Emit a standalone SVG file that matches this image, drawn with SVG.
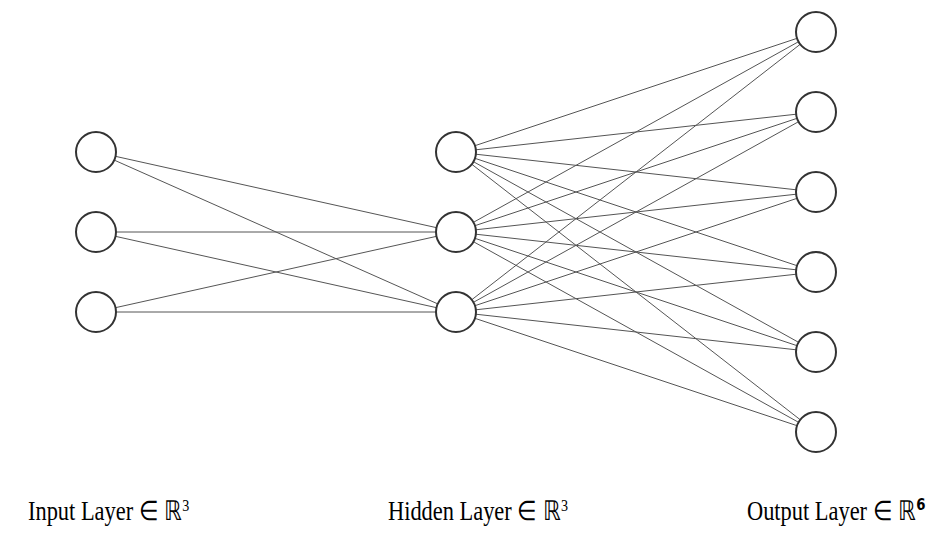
<svg xmlns="http://www.w3.org/2000/svg" width="944" height="538" viewBox="0 0 944 538">
  <style>
    .edge { stroke: #555; stroke-width: 1; fill: none; }
    .neuron { fill: #fff; stroke: #333; stroke-width: 2; }
    .label { font-family: "Liberation Serif", "Times New Roman", serif; font-size: 27px; fill: #000; }
    .sup { font-size: 17px; }
    .supb { font-family: "DejaVu Sans", sans-serif; font-weight: bold; font-size: 16px; }
  </style>
  <rect width="944" height="538" fill="#fff"/>

  <!-- connections (drawn first, circles cover the ends) -->
  <g id="connectors">
    <!-- input -> hidden -->
    <line class="edge" x1="96" y1="152" x2="456" y2="232"/>
    <line class="edge" x1="96" y1="152" x2="456" y2="312"/>
    <line class="edge" x1="96" y1="232" x2="456" y2="232"/>
    <line class="edge" x1="96" y1="232" x2="456" y2="312"/>
    <line class="edge" x1="96" y1="312" x2="456" y2="232"/>
    <line class="edge" x1="96" y1="312" x2="456" y2="312"/>
    <!-- hidden -> output -->
    <line class="edge" x1="456" y1="152" x2="816" y2="32"/>
    <line class="edge" x1="456" y1="152" x2="816" y2="112"/>
    <line class="edge" x1="456" y1="152" x2="816" y2="192"/>
    <line class="edge" x1="456" y1="152" x2="816" y2="272"/>
    <line class="edge" x1="456" y1="152" x2="816" y2="352"/>
    <line class="edge" x1="456" y1="152" x2="816" y2="432"/>
    <line class="edge" x1="456" y1="232" x2="816" y2="32"/>
    <line class="edge" x1="456" y1="232" x2="816" y2="112"/>
    <line class="edge" x1="456" y1="232" x2="816" y2="192"/>
    <line class="edge" x1="456" y1="232" x2="816" y2="272"/>
    <line class="edge" x1="456" y1="232" x2="816" y2="352"/>
    <line class="edge" x1="456" y1="232" x2="816" y2="432"/>
    <line class="edge" x1="456" y1="312" x2="816" y2="32"/>
    <line class="edge" x1="456" y1="312" x2="816" y2="112"/>
    <line class="edge" x1="456" y1="312" x2="816" y2="192"/>
    <line class="edge" x1="456" y1="312" x2="816" y2="272"/>
    <line class="edge" x1="456" y1="312" x2="816" y2="352"/>
    <line class="edge" x1="456" y1="312" x2="816" y2="432"/>
  </g>

  <!-- input layer -->
  <g id="in1"><circle class="neuron" cx="96" cy="152" r="20"/></g>
  <g id="in2"><circle class="neuron" cx="96" cy="232" r="20"/></g>
  <g id="in3"><circle class="neuron" cx="96" cy="312" r="20"/></g>

  <!-- hidden layer -->
  <g id="h1"><circle class="neuron" cx="456" cy="152" r="20"/></g>
  <g id="h2"><circle class="neuron" cx="456" cy="232" r="20"/></g>
  <g id="h3"><circle class="neuron" cx="456" cy="312" r="20"/></g>

  <!-- output layer -->
  <g id="out1"><circle class="neuron" cx="816" cy="32" r="20"/></g>
  <g id="out2"><circle class="neuron" cx="816" cy="112" r="20"/></g>
  <g id="out3"><circle class="neuron" cx="816" cy="192" r="20"/></g>
  <g id="out4"><circle class="neuron" cx="816" cy="272" r="20"/></g>
  <g id="out5"><circle class="neuron" cx="816" cy="352" r="20"/></g>
  <g id="out6"><circle class="neuron" cx="816" cy="432" r="20"/></g>

  <!-- layer captions -->
  <g id="labels">
    <text class="label" transform="translate(28,520) scale(0.83,1)">Input Layer ∈ ℝ<tspan class="sup" dy="-9">3</tspan></text>
    <text class="label" transform="translate(388,520) scale(0.83,1)">Hidden Layer ∈ ℝ<tspan class="sup" dy="-9">3</tspan></text>
    <text class="label" transform="translate(747,520) scale(0.83,1)">Output Layer ∈ ℝ<tspan class="supb" dy="-10">6</tspan></text>
  </g>
</svg>
